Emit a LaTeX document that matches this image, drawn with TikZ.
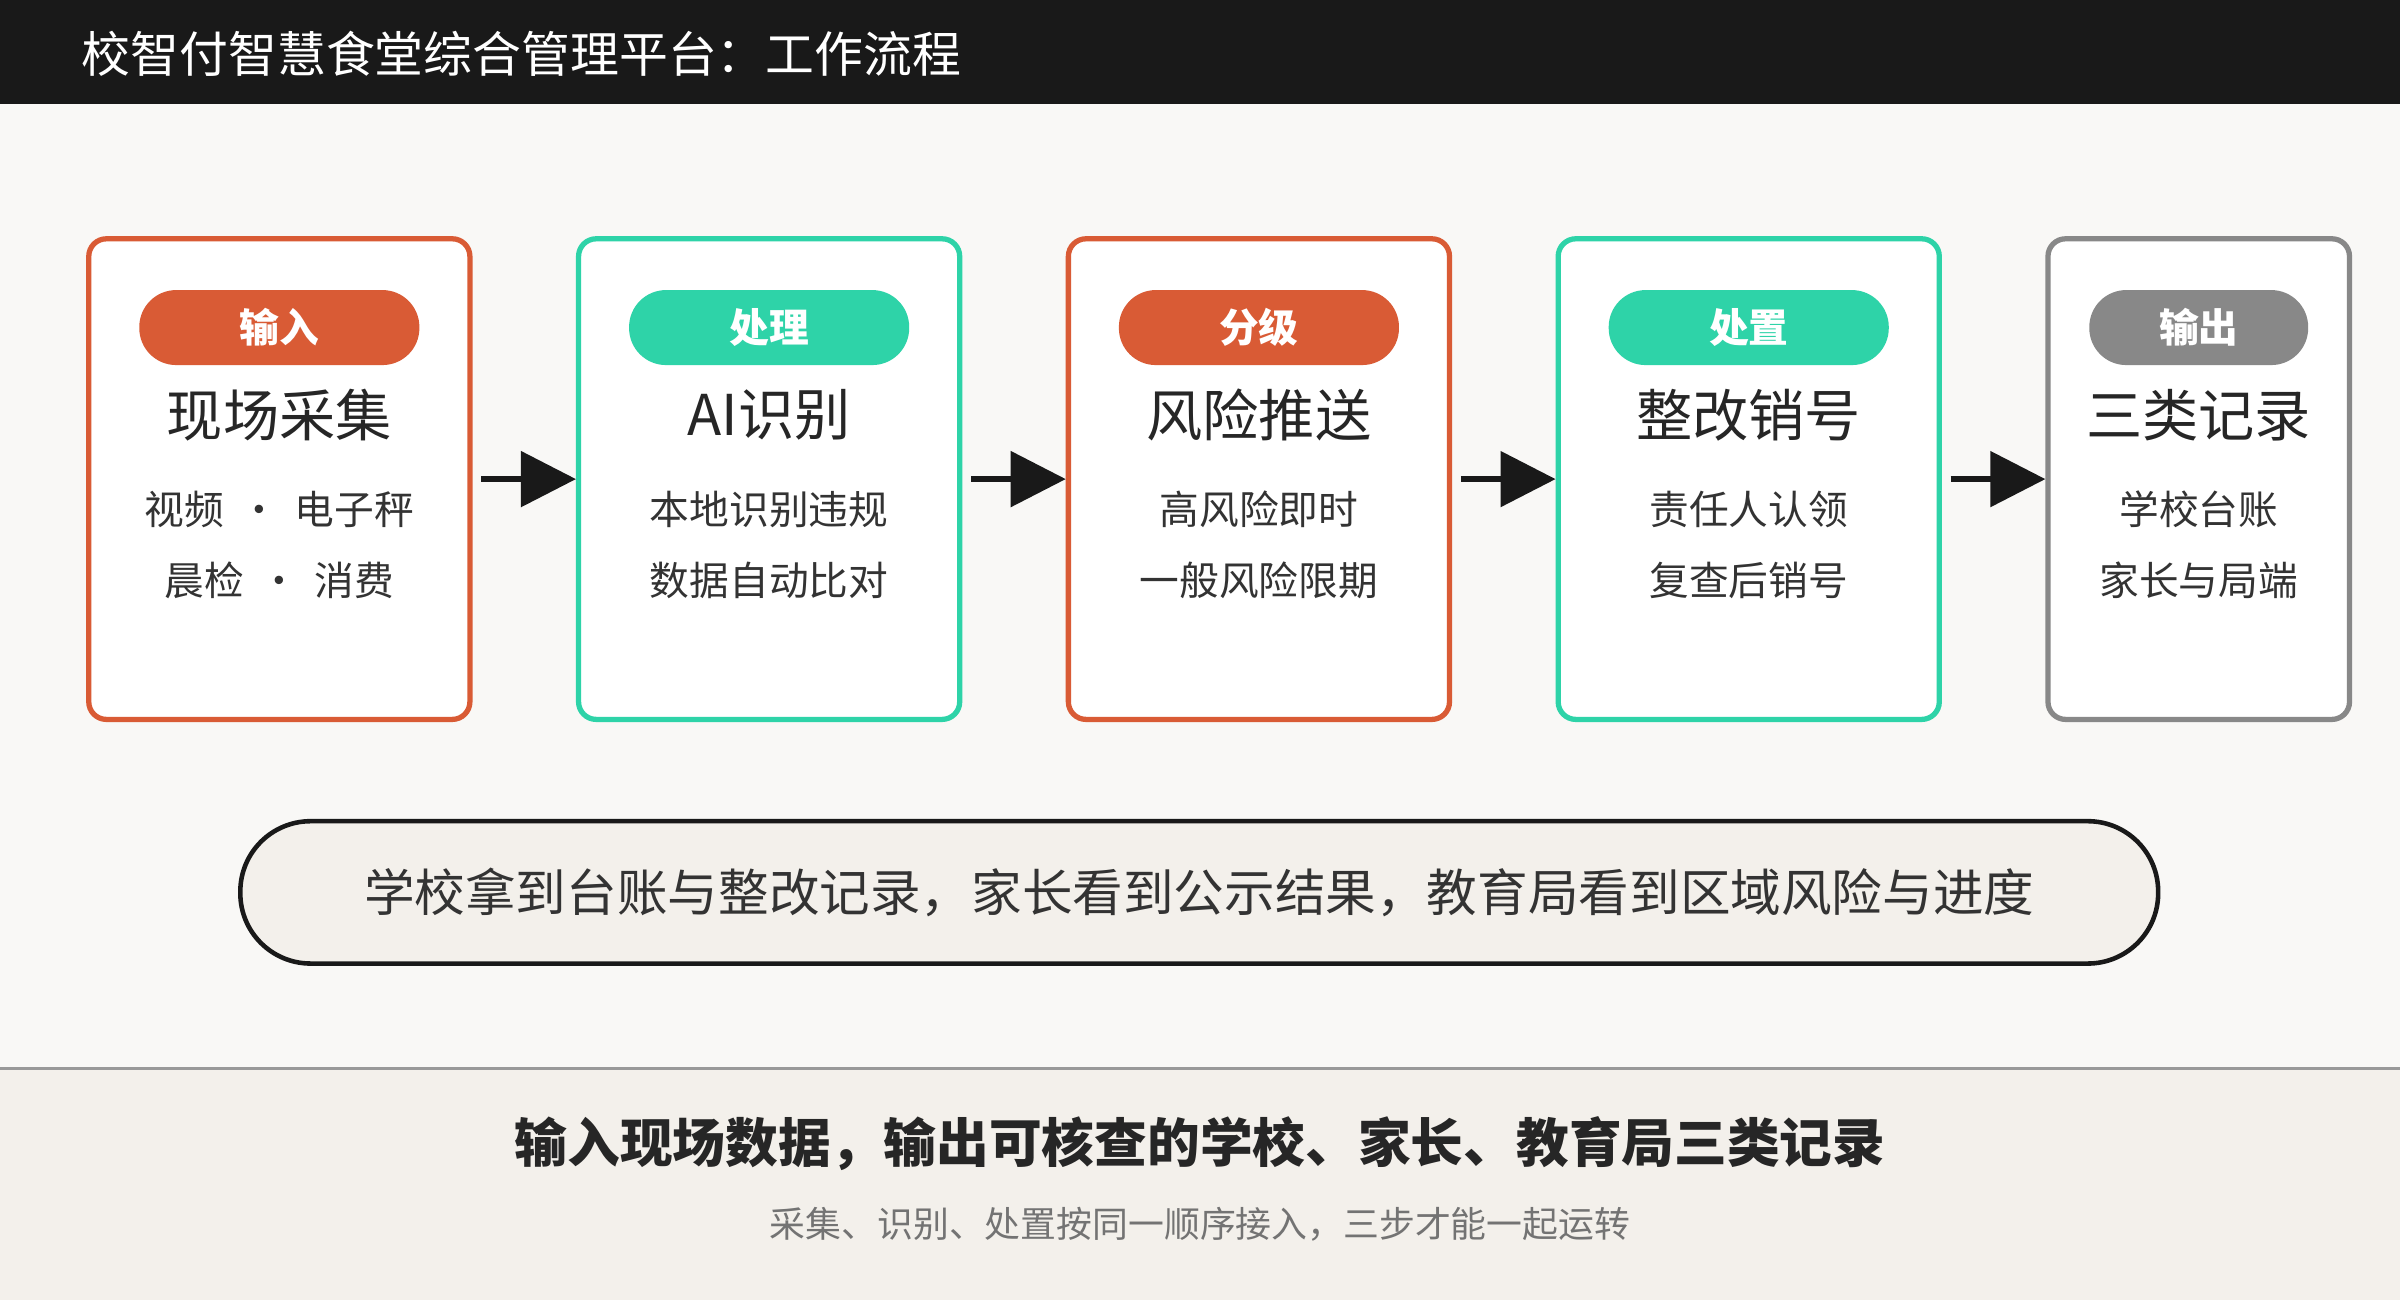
\documentclass[tikz,border=0pt]{standalone}
\usepackage{fontspec}
\setmainfont{Noto Sans CJK SC}
\usetikzlibrary{arrows.meta,positioning}
\definecolor{bgPaper}{HTML}{F9F8F6}
\definecolor{bgFoot}{HTML}{F3F0EB}
\definecolor{eOrange}{HTML}{D95B35}
\definecolor{eTeal}{HTML}{2ED3A8}
\definecolor{eGrey}{HTML}{888888}
\definecolor{eText}{HTML}{333333}
\tikzset{stage/.style={draw=#1, line width=1.5pt, fill=white, rounded corners=5pt,
  minimum height=314*0.15306mm, inner sep=0pt}}
\tikzset{pill/.style={fill=#1, rounded corners=10.5pt, minimum height=49*0.15306mm,
  text=white, font=\fontsize{11.3}{12}\selectfont\bfseries, inner sep=0pt}}
\tikzset{flow/.style={line width=1.5pt, -{Triangle[length=5.5mm,width=5.5mm]}}}
\begin{document}
\begin{tikzpicture}[x=0.15306mm, y=-0.15306mm]
  \useasboundingbox (0,0) rectangle (1568,849);
  \fill[bgPaper] (0,0) rectangle (1568,849);
  \fill[black!90] (0,0) rectangle (1568,68);
  \node[anchor=west, text=white, font=\fontsize{13.9}{15}\selectfont, inner sep=0pt] (title) at (53,35)
    {校智付智慧食堂综合管理平台：工作流程};
  %% stages
  \foreach \n/\x/\w/\c/\tag/\head/\la/\lb in {
      1/182.5/249/eOrange/输入/现场采集/{视频\,\ •\ \,电子秤}/{晨检\,\ •\ \,消费},
      2/502.5/249/eTeal/处理/AI识别/本地识别违规/数据自动比对,
      3/822.5/249/eOrange/分级/风险推送/高风险即时/一般风险限期,
      4/1142.5/249/eTeal/处置/整改销号/责任人认领/复查后销号,
      5/1436.5/197/eGrey/输出/三类记录/学校台账/家长与局端} {
    \node[stage=\c, minimum width=\w*0.15306mm] (s\n) at (\x,313) {};
    \node[pill=\c, minimum width={(\w-66+(\n==5)*12)*0.15306mm}] (p\n) at (\x,214) {\tag};
    \node[font=\fontsize{16}{18}\selectfont, text=black!85] (h\n) at (\x,271) {\head};
    \node[font=\fontsize{11.3}{13}\selectfont, text=eText] (a\n) at (\x,333) {\la};
    \node[font=\fontsize{11.3}{13}\selectfont, text=eText] (b\n) at (\x,379) {\lb};
  }
  \foreach \i/\j in {1/2,2/3,3/4,4/5}
    \draw[flow, black!90, shorten <=2.5pt] (s\i.east) -- (s\j.west);
  %% summary
  \node[draw=black!90, line width=1.3pt, fill=bgFoot, rounded corners=20pt,
    minimum width=1253*0.15306mm, minimum height=93*0.15306mm,
    font=\fontsize{14.4}{16}\selectfont, text=eText] (sum) at (783.5,583)
    {学校拿到台账与整改记录，家长看到公示结果，教育局看到区域风险与进度};
  %% footer
  \fill[bgFoot] (0,698) rectangle (1568,849);
  \draw[black!40, line width=0.8pt] (0,698) -- (1568,698);
  \node[font=\fontsize{15}{17}\selectfont\bfseries, text=black!85] (foot) at (784,747)
    {输入现场数据，输出可核查的学校、家长、教育局三类记录};
  \node[font=\fontsize{10.2}{12}\selectfont, text=black!55] (note) at (784,800)
    {采集、识别、处置按同一顺序接入，三步才能一起运转};
\end{tikzpicture}
\end{document}
